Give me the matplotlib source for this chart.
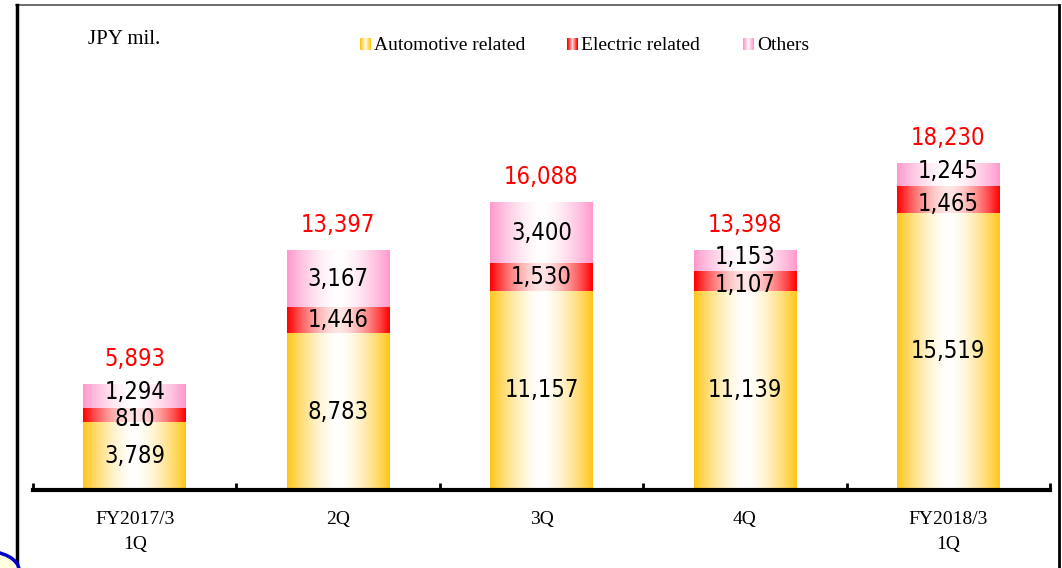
import numpy as np
import matplotlib
matplotlib.use("Agg")
import matplotlib.pyplot as plt
from matplotlib import font_manager
from matplotlib.colors import to_rgb
from matplotlib.patches import Circle
from matplotlib.lines import Line2D

quarters = ["FY2017/3\n1Q", "2Q", "3Q", "4Q", "FY2018/3\n1Q"]
automotive = [3789, 8783, 11157, 11139, 15519]
electric = [810, 1446, 1530, 1107, 1465]
others = [1294, 3167, 3400, 1153, 1245]
totals = [5893, 13397, 16088, 13398, 18230]

series_names = ["Automotive related", "Electric related", "Others"]
edge_colors = ["#FFC61A", "#FF0000", "#FF99CC"]
mid_colors = ["#FFFFFF", "#FFE6E6", "#FFFFFF"]

serif_font = ["Liberation Serif", "DejaVu Serif"]

# narrow regular face for the numbers
condensed = [f for f in font_manager.fontManager.ttflist
             if f.fname.endswith("DejaVuSansCondensed.ttf")]
if condensed:
    num_fp = font_manager.FontProperties(fname=condensed[0].fname, size=17)
else:
    num_fp = font_manager.FontProperties(family="DejaVu Sans", stretch="condensed", size=17)


def gradient(edge, mid, n=200, p=1.6):
    # horizontal strip: saturated at both edges, pale in the middle
    t = np.abs(np.linspace(-1, 1, n)) ** p
    e = np.array(to_rgb(edge))
    m = np.array(to_rgb(mid))
    row = m[None, :] * (1 - t[:, None]) + e[None, :] * t[:, None]
    return row[None, :, :]


fig = plt.figure(figsize=(10.62, 5.68), dpi=100)
W, H = 1062, 568

# plot area in pixel terms
x0, x1, ybase, ytop = 33, 1050, 490, 20
ax = fig.add_axes([x0 / W, 1 - ybase / H, (x1 - x0) / W, (ybase - ytop) / H])
ymax = 26300

bar_w = 0.505
stacks = [automotive, electric, others]
for i in range(len(quarters)):
    bottom = 0
    thin_top = others[i] < 1500
    for s, vals in enumerate(stacks):
        v = vals[i]
        img = gradient(edge_colors[s], mid_colors[s])
        ax.imshow(img, extent=(i - bar_w / 2, i + bar_w / 2, bottom, bottom + v),
                  aspect="auto", interpolation="bilinear", zorder=2)
        # spread the two upper labels apart when the top segments are thin
        dy = 0
        if thin_top and s == 1:
            dy = -3
        elif thin_top and s == 2:
            dy = 3
        ax.annotate(f"{v:,}", (i, bottom + v / 2), xytext=(0, dy),
                    textcoords="offset points", ha="center", va="center",
                    color="black", zorder=3, fontproperties=num_fp)
        bottom += v
    ax.text(i, totals[i] + 1450, f"{totals[i]:,}", ha="center", va="center",
            color="#FF0000", zorder=3, fontproperties=num_fp)

ax.set_aspect("auto")
ax.set_xlim(-0.5, len(quarters) - 0.5)
ax.set_ylim(0, ymax)

for side in ["top", "right", "left"]:
    ax.spines[side].set_visible(False)
ax.spines["bottom"].set_linewidth(3)
ax.set_yticks([])
ax.set_xticks(range(len(quarters)))
ax.set_xticklabels(quarters, family=serif_font, fontsize=14, linespacing=1.6)
ax.tick_params(axis="x", which="major", length=0, pad=15)
ax.set_xticks(np.arange(-0.5, len(quarters), 1.0), minor=True)
ax.tick_params(axis="x", which="minor", direction="in", length=5, width=2)

# unit label
fig.text(88 / W, 1 - 39 / H, "JPY mil.", family=serif_font, fontsize=15,
         ha="left", va="center")

# legend with small gradient swatches
legend_x = [360, 567, 743]
for s, name in enumerate(series_names):
    sw = fig.add_axes([legend_x[s] / W, 1 - 50 / H, 11 / W, 12 / H])
    sw.imshow(gradient(edge_colors[s], mid_colors[s], n=12, p=1.0),
              aspect="auto", interpolation="nearest")
    sw.axis("off")
    fig.text((legend_x[s] + 14) / W, 1 - 45 / H, name, family=serif_font,
             fontsize=14, ha="left", va="center")

# outer frame
fig.add_artist(Line2D([16 / W, 1059 / W], [1 - 5 / H, 1 - 5 / H], color="#555555",
                      lw=1.2, transform=fig.transFigure))
fig.add_artist(Line2D([17 / W, 17 / W], [0, 1 - 5 / H], color="black",
                      lw=2.5, transform=fig.transFigure))
fig.add_artist(Line2D([1059 / W, 1059 / W], [0, 1 - 5 / H], color="black",
                      lw=2, transform=fig.transFigure))

# partially visible marker circle in the lower-left corner
fig.add_artist(Circle((-17 / W, 1 - 570 / H), 36 / W, transform=fig.transFigure,
                      facecolor="#FFFFE0", edgecolor="#0000CC", lw=2.5, zorder=5))

fig.savefig("out.png", dpi=100)
